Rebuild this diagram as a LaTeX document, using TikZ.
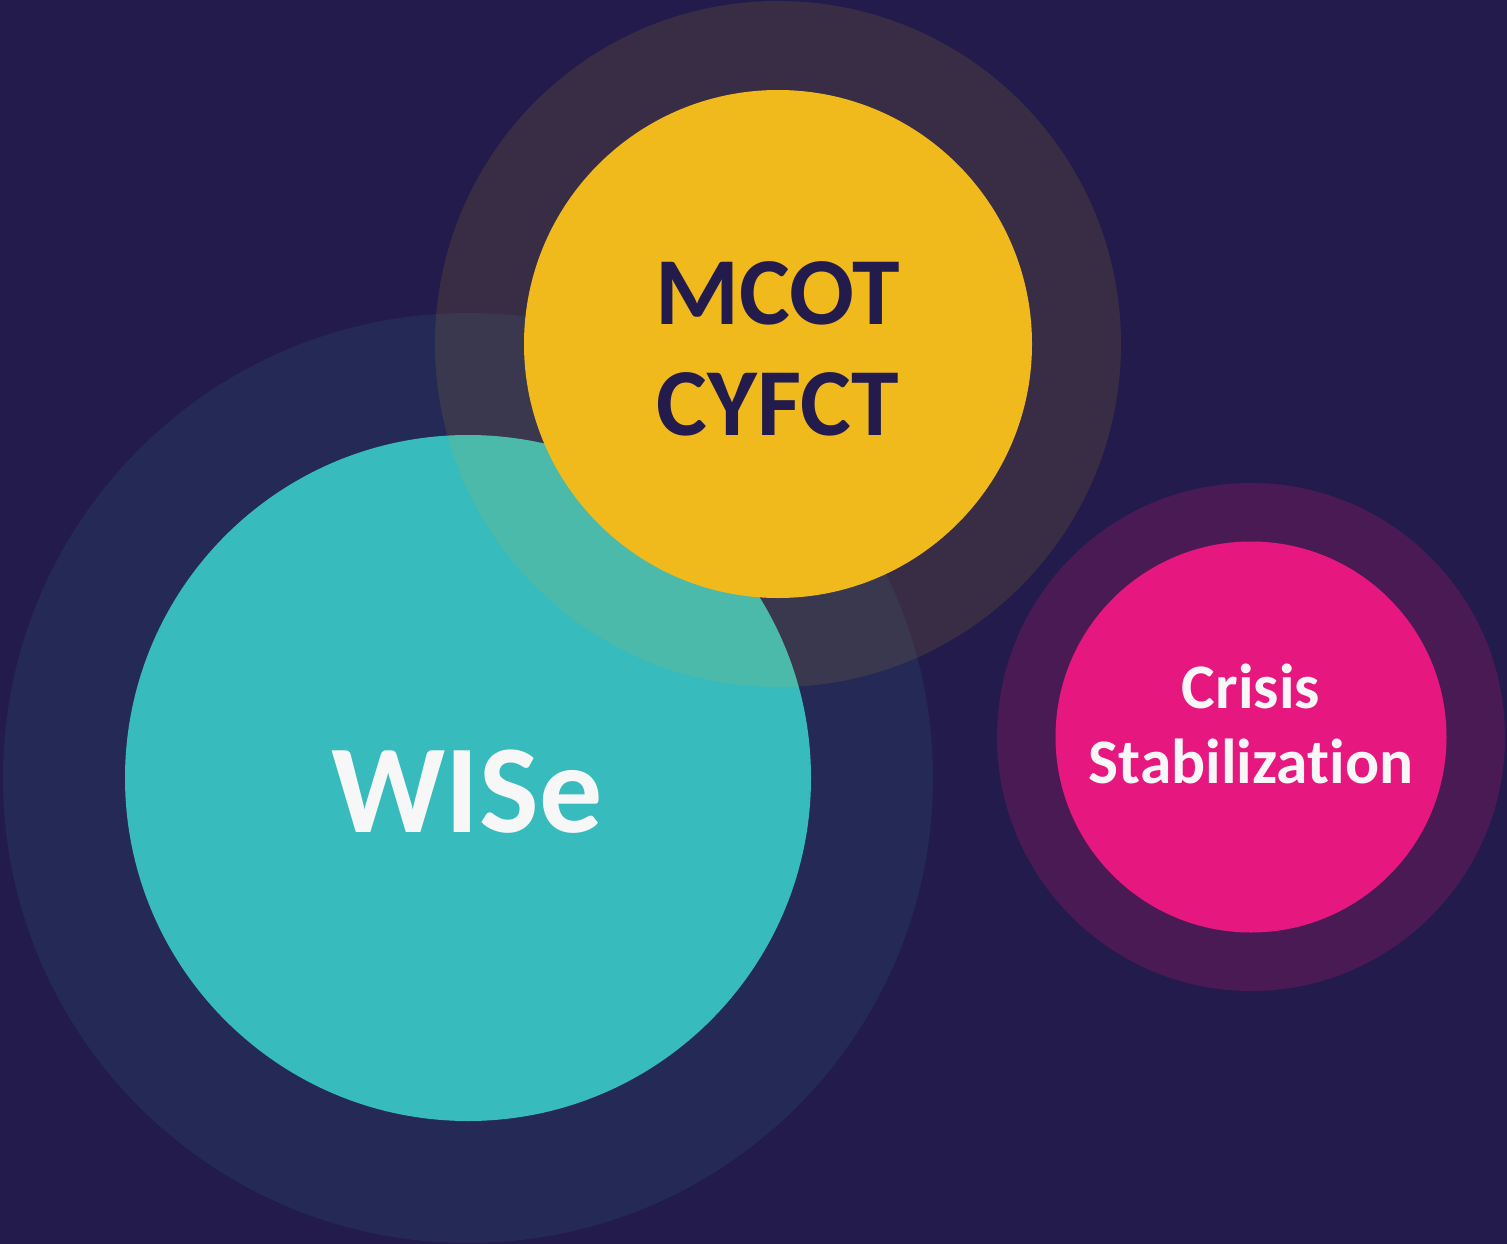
\documentclass[tikz,border=0pt]{standalone}
\usepackage{fontspec}
\setmainfont[RawFeature=-liga]{Carlito}
\definecolor{bgnavy}{HTML}{231B4B}
\definecolor{teal}{HTML}{37BBBC}
\definecolor{gold}{HTML}{F0B91C}
\definecolor{pinkc}{HTML}{E6187F}
\definecolor{offwhite}{HTML}{F7F7F7}
\tikzset{
  disc/.style={circle, draw=none, inner sep=0pt, minimum size=#1},
  halo/.style={circle, draw=none, inner sep=0pt, minimum size=#1},
  lbl/.style={anchor=base, inner sep=0pt, font=\bfseries}
}
\begin{document}
\begin{tikzpicture}[x=1pt,y=-1pt]
\fill[bgnavy] (0,0) rectangle (1507,1244);
\useasboundingbox (0,0) rectangle (1507,1244);
% WISe
\node[halo=930pt, fill=teal, fill opacity=0.09] (wisehalo) at (468,778) {};
\node[disc=686pt, fill=teal] (wise) at (468,778) {};
% MCOT
\node[halo=686pt, fill=gold, fill opacity=0.11] (mcothalo) at (778,344) {};
\node[disc=508pt, fill=gold] (mcot) at (778,344) {};
% Crisis
\node[halo=508pt, fill=pinkc, fill opacity=0.2] (crisishalo) at (1251,737) {};
\node[disc=391pt, fill=pinkc] (crisis) at (1251,737) {};
% labels
\node[lbl, text=bgnavy, font=\fontsize{96}{110}\selectfont\bfseries] (t1) at (778,324) {MCOT};
\node[lbl, text=bgnavy, font=\fontsize{96}{110}\selectfont\bfseries] (t2) at (778,435) {CYFCT};
\node[lbl, text=offwhite, font=\fontsize{126}{140}\selectfont\bfseries] (t3) at (467,832) {WISe};
\node[lbl, text=offwhite, font=\fontsize{63.5}{70}\selectfont\bfseries] (t4) at (1251,708) {Crisis};
\node[lbl, text=offwhite, font=\fontsize{63.5}{70}\selectfont\bfseries] (t5) at (1251,783) {Stabilization};
\end{tikzpicture}
\end{document}
